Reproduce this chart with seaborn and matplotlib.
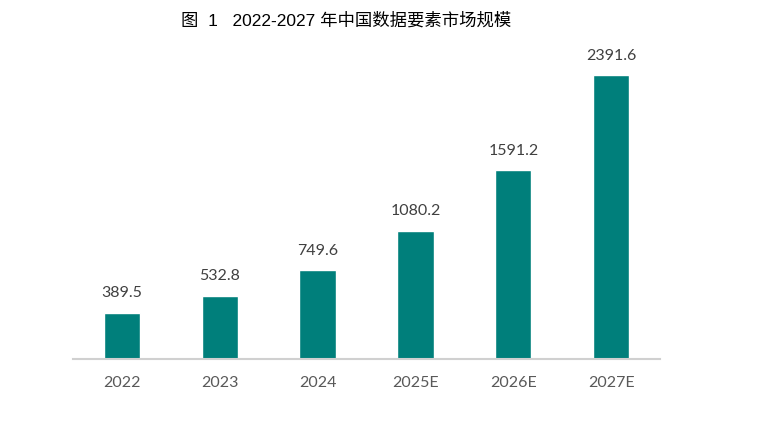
import matplotlib
matplotlib.use("Agg")
import matplotlib.pyplot as plt
import pandas as pd
import seaborn as sns

years = ["2022", "2023", "2024", "2025E", "2026E", "2027E"]
values = [389.5, 532.8, 749.6, 1080.2, 1591.2, 2391.6]
labels = ["389.5", "532.8", "749.6", "1080.2", "1591.2", "2391.6"]

df = pd.DataFrame({"year": years, "value": values})

sns.set_theme(style="white")
plt.rcParams['font.family'] = ['Lato', 'Noto Sans CJK SC', 'DejaVu Sans']

fig = plt.figure(figsize=(7.84, 4.34), dpi=100)
ax = fig.add_axes([0.093, 0.173, 0.749, 0.735])
sns.barplot(data=df, x="year", y="value", color="#007f7b", saturation=1,
            width=0.37, ax=ax)

for i, v in enumerate(values):
    ax.annotate(labels[i], (i, v), xytext=(0, 9), textcoords="offset points",
                ha="center", va="bottom", fontsize=11.5, color="#404040")

ax.set_ylim(0, 2690)
ax.set_xlim(-0.5, 5.5)
ax.set_xlabel("")
ax.set_ylabel("")
ax.set_yticks([])
sns.despine(ax=ax, left=True)
ax.spines["bottom"].set_color("#d0d0d0")
ax.spines["bottom"].set_linewidth(1.5)
ax.tick_params(axis="x", length=0, pad=12, labelsize=11.5, labelcolor="#595959")

fig.text(0.441, 0.952, "图  1   2022-2027 年中国数据要素市场规模", ha="center", va="center",
         fontsize=12.5, color="#000000",
         family=['Liberation Sans', 'Noto Sans CJK SC'])

fig.savefig("out.png", dpi=100)
